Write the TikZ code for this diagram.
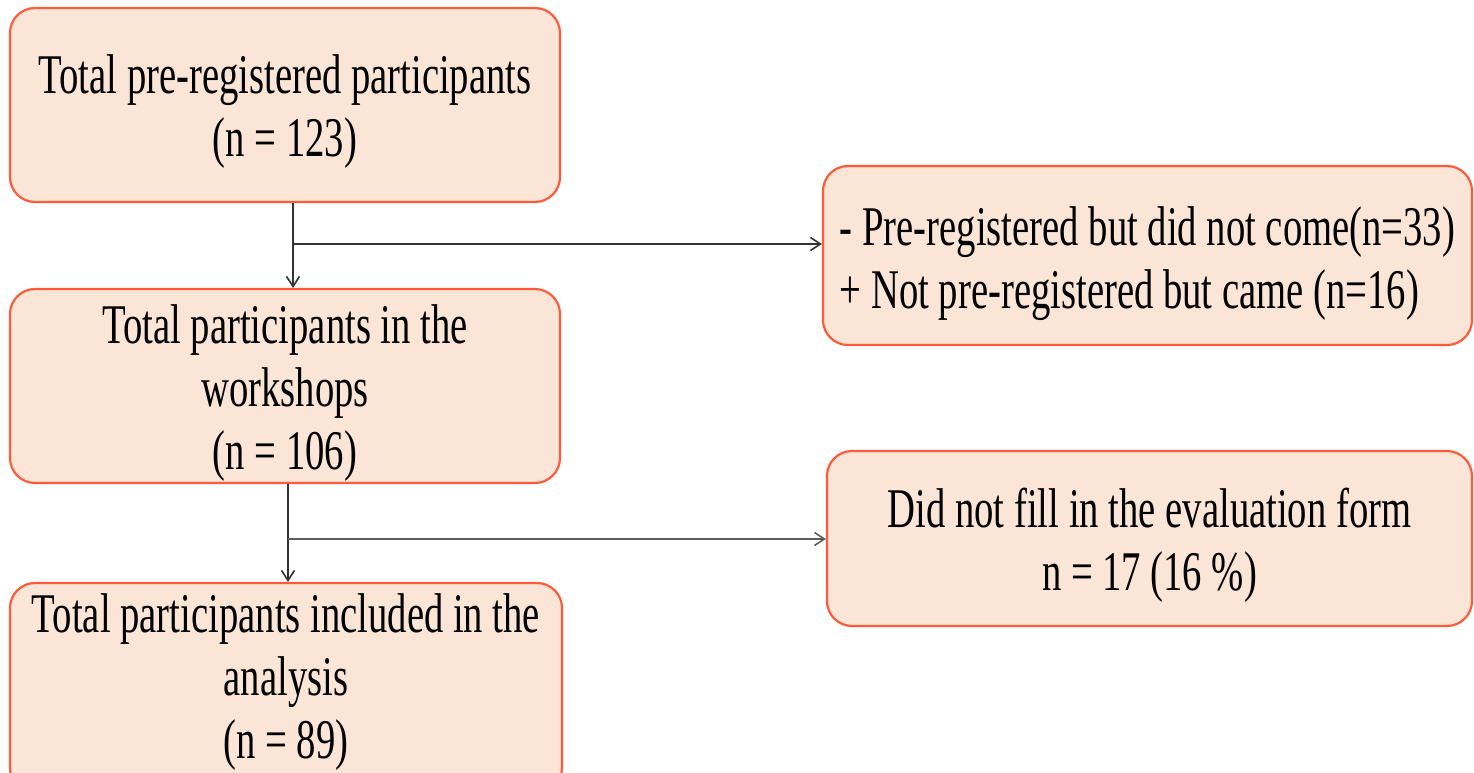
\documentclass[tikz,border=0pt]{standalone}
\usepackage{fontspec}
\setmainfont[FakeStretch=0.69]{Liberation Serif}
\usetikzlibrary{arrows.meta,calc}
\definecolor{boxfill}{HTML}{FBE5D6}
\definecolor{boxdraw}{HTML}{FF5B3A}
\definecolor{linecol}{HTML}{333333}
\newcommand{\lowerfirst}{\rule{0pt}{52pt}}
\begin{document}
\begin{tikzpicture}[x=1pt,y=-1pt,
  box/.style={draw=boxdraw, fill=boxfill, line width=2.2pt, rounded corners=25pt,
    inner sep=0pt, align=center, font=\fontsize{56}{63}\selectfont},
  conn/.style={draw=linecol, line width=1.6pt, -{Straight Barb[length=10pt,width=13pt,line width=1.6pt]}}]
\useasboundingbox (0,0) rectangle (1474,773);
\node[box, minimum width=550pt, minimum height=194pt] (b1) at (285,105)
  {\lowerfirst Total pre-registered participants\\(n = 123)};
\node[box, minimum width=550pt, minimum height=194pt] (b2) at (285,386)
  {\lowerfirst Total participants in the\\workshops\\(n = 106)};
\node[box, minimum width=552pt, minimum height=210pt] (b3) at (286,688)
  {Total participants included in the\\analysis\\(n = 89)\rule[-24pt]{0pt}{0pt}};
\node[box, minimum width=649pt, minimum height=179pt, align=left] (b4) at (1147.5,255.5)
  {\rule{0pt}{56pt}- Pre-registered but did not come(n=33)\\+ Not pre-registered but came (n=16)};
\node[box, minimum width=645pt, minimum height=175pt] (b5) at (1149.5,538.5)
  {\lowerfirst Did not fill in the evaluation form\\n = 17 (16 \%)};
\coordinate (j1) at (293,244);
\coordinate (j2) at (288,539);
\draw[conn] (b1.south -| j1) -- (b2.north -| j1);
\draw[conn] (j1) -- (b4.west |- j1);
\draw[conn] (b2.south -| j2) -- (b3.north -| j2);
\draw[conn, line width=2.2pt, draw=linecol!80] (j2) -- (b5.west |- j2);
\end{tikzpicture}
\end{document}
